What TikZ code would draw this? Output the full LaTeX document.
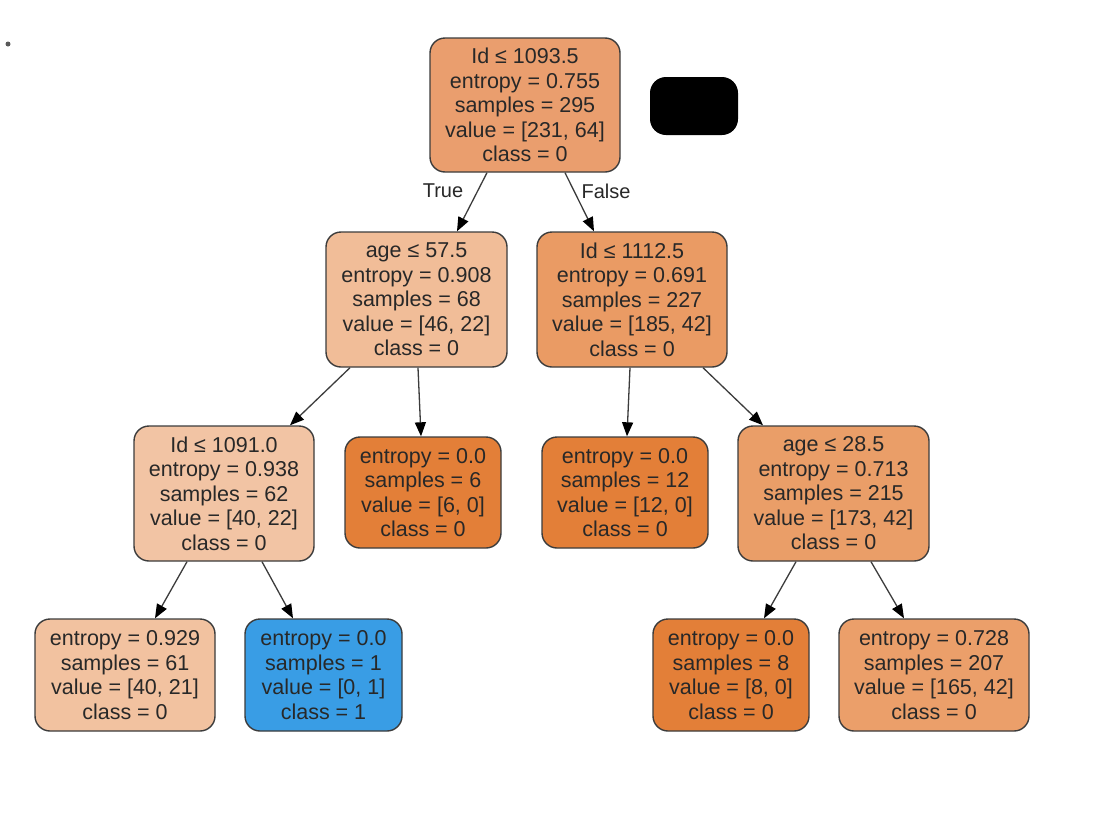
\documentclass[tikz,border=0pt]{standalone}
\usepackage{fontspec}
\setmainfont{Liberation Sans}
\usetikzlibrary{calc,arrows.meta}
\definecolor{cRoot}{RGB}{234,158,110}
\definecolor{cAgeA}{RGB}{241,189,152}
\definecolor{cIdB}{RGB}{234,155,100}
\definecolor{cIdC}{RGB}{242,196,164}
\definecolor{cPure}{RGB}{227,127,56}
\definecolor{cAgeB}{RGB}{234,158,104}
\definecolor{cLeafA}{RGB}{242,194,160}
\definecolor{cBlue}{RGB}{57,157,229}
\definecolor{cLeafB}{RGB}{235,159,106}
\definecolor{cText}{RGB}{40,40,40}
\definecolor{cBorder}{RGB}{60,60,60}
\tikzset{
  tnode/.style={draw=cBorder, line width=1.4pt, rounded corners=15pt, align=center,
    text=cText, inner sep=0pt, font=\fontsize{21.5}{24.5}\selectfont},
  edge/.style={draw=cBorder, line width=1.3pt, -{Triangle[length=14pt,width=11pt,color=black]}},
  elabel/.style={text=cText, font=\fontsize{20}{24}\selectfont, inner sep=0pt}
}
\begin{document}
\begin{tikzpicture}[x=1pt,y=-1pt]
\useasboundingbox (0,0) rectangle (1100,825);
\fill[white] (0,0) rectangle (1100,825);
\fill[gray!70!black] (8,44) circle (2.5);
\fill[black, rounded corners=16pt] (650,77) rectangle (738,135);

\node[tnode, fill=cRoot, minimum width=190pt, minimum height=134pt] (root) at (525,105)
  {Id ≤ 1093.5\\entropy = 0.755\\samples = 295\\value = [231, 64]\\class = 0};
\node[tnode, fill=cAgeA, minimum width=181pt, minimum height=135pt] (ageA) at (416.5,299.5)
  {age ≤ 57.5\\entropy = 0.908\\samples = 68\\value = [46, 22]\\class = 0};
\node[tnode, fill=cIdB, minimum width=190pt, minimum height=135pt] (idB) at (632,299.5)
  {Id ≤ 1112.5\\entropy = 0.691\\samples = 227\\value = [185, 42]\\class = 0};
\node[tnode, fill=cIdC, minimum width=180pt, minimum height=135pt] (idC) at (224,493.5)
  {Id ≤ 1091.0\\entropy = 0.938\\samples = 62\\value = [40, 22]\\class = 0};
\node[tnode, fill=cPure, minimum width=156pt, minimum height=111pt] (leafS) at (423,492.5)
  {entropy = 0.0\\samples = 6\\value = [6, 0]\\class = 0};
\node[tnode, fill=cPure, minimum width=166pt, minimum height=111pt] (leafT) at (625,492.5)
  {entropy = 0.0\\samples = 12\\value = [12, 0]\\class = 0};
\node[tnode, fill=cAgeB, minimum width=191pt, minimum height=135pt] (ageB) at (833.5,493.5)
  {age ≤ 28.5\\entropy = 0.713\\samples = 215\\value = [173, 42]\\class = 0};
\node[tnode, fill=cLeafA, minimum width=180pt, minimum height=112pt] (leafA) at (125,675)
  {entropy = 0.929\\samples = 61\\value = [40, 21]\\class = 0};
\node[tnode, fill=cBlue, minimum width=157pt, minimum height=112pt] (leafO) at (323.5,675)
  {entropy = 0.0\\samples = 1\\value = [0, 1]\\class = 1};
\node[tnode, fill=cPure, minimum width=156pt, minimum height=112pt] (leafE) at (731,675)
  {entropy = 0.0\\samples = 8\\value = [8, 0]\\class = 0};
\node[tnode, fill=cLeafB, minimum width=190pt, minimum height=112pt] (leafB) at (934,675)
  {entropy = 0.728\\samples = 207\\value = [165, 42]\\class = 0};

\draw[edge] ([xshift=-38pt]root.south) -- ([xshift=40.5pt]ageA.north);
\draw[edge] ([xshift=40pt]root.south) -- ([xshift=-38pt]idB.north);
\draw[edge] ([xshift=-66.5pt]ageA.south) -- ([xshift=66pt]idC.north);
\draw[edge] ([xshift=1.5pt]ageA.south) -- ([xshift=-2pt]leafS.north);
\draw[edge] ([xshift=-2pt]idB.south) -- ([xshift=2pt]leafT.north);
\draw[edge] ([xshift=71pt]idB.south) -- ([xshift=-70.5pt]ageB.north);
\draw[edge] ([xshift=-37pt]idC.south) -- ([xshift=30pt]leafA.north);
\draw[edge] ([xshift=38pt]idC.south) -- ([xshift=-30.5pt]leafO.north);
\draw[edge] ([xshift=-37.5pt]ageB.south) -- ([xshift=33pt]leafE.north);
\draw[edge] ([xshift=37.5pt]ageB.south) -- ([xshift=-30pt]leafB.north);

\node[elabel] (tl) at (443,191) {True};
\node[elabel] (fl) at (606,191) {False};
\end{tikzpicture}
\end{document}
